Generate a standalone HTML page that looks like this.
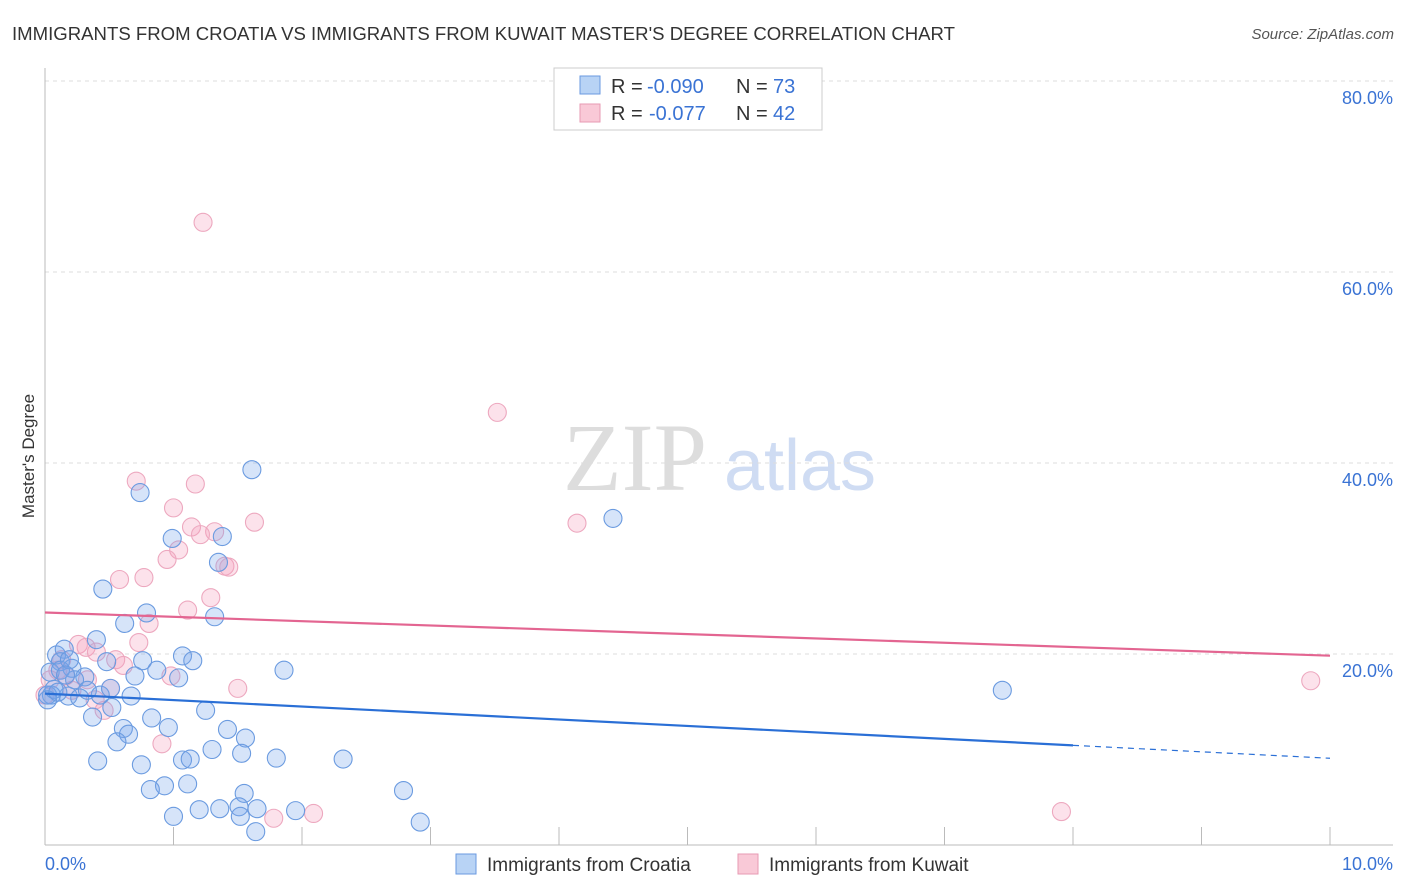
<!DOCTYPE html>
<html><head><meta charset="utf-8"><style>
body{margin:0;background:#fff;font-family:"Liberation Sans",sans-serif}
</style></head><body>
<svg id="c" width="1406" height="892" style="position:absolute;left:0;top:0">
<text x="12" y="40" font-size="18" fill="#333" textLength="943" lengthAdjust="spacingAndGlyphs">IMMIGRANTS FROM CROATIA VS IMMIGRANTS FROM KUWAIT MASTER'S DEGREE CORRELATION CHART</text>
<text x="1394" y="39" font-size="15" fill="#555" font-style="italic" text-anchor="end">Source: ZipAtlas.com</text>
<text x="34" y="456" font-size="17" fill="#333" text-anchor="middle" transform="rotate(-90 34 456)">Master's Degree</text>
<g><text x="635" y="490" font-size="96" fill="#ddd" font-family="Liberation Serif,serif" text-anchor="middle">ZIP</text><text x="800" y="490" font-size="72" fill="#cfdcf3" text-anchor="middle">atlas</text></g>
<g id="grid"></g><g id="axes"></g><g id="pts"></g><g id="trend"></g>
<g>
<rect x="554" y="68" width="268" height="62" fill="#fff" stroke="#ccc"/>
<rect x="580" y="76" width="20" height="18" fill="#b8d3f5" stroke="#6a9ae0"/>
<text x="611" y="93" font-size="20" fill="#333">R =</text>
<text x="647" y="93" font-size="20" fill="#3a73d4">-0.090</text>
<text x="736" y="93" font-size="20" fill="#333">N =</text>
<text x="773" y="93" font-size="20" fill="#3a73d4">73</text>
<rect x="580" y="104" width="20" height="18" fill="#f9c9d7" stroke="#e79ab3"/>
<text x="611" y="120" font-size="20" fill="#333">R =</text>
<text x="649" y="120" font-size="20" fill="#3a73d4">-0.077</text>
<text x="736" y="120" font-size="20" fill="#333">N =</text>
<text x="773" y="120" font-size="20" fill="#3a73d4">42</text>
</g>
<g>
<rect x="456" y="854" width="20" height="20" fill="#b8d3f5" stroke="#6a9ae0"/>
<text x="487" y="871" font-size="19" fill="#333">Immigrants from Croatia</text>
<rect x="738" y="854" width="20" height="20" fill="#f9c9d7" stroke="#e79ab3"/>
<text x="769" y="871" font-size="19" fill="#333">Immigrants from Kuwait</text>
</g>
</svg>
<script>
const yTicks=[20,40,60,80];
const yTickLabels=["20.0%","40.0%","60.0%","80.0%"];
const xTicks=[0,1,2,3,4,5,6,7,8,9,10];
const croatiaX=[1.61,0.74,4.42,0.99,1.38,0.45,1.35,0.79,1.32,0.62,0.4,1.07,1.15,0.76,0.48,0.87,0.7,1.04,1.86,0.09,0.15,0.12,0.21,0.04,0.31,0.05,0.18,0.27,0.43,0.67,0.52,1.25,0.37,0.83,0.96,0.61,0.65,1.42,0.56,1.56,1.3,1.53,0.41,1.8,2.32,1.07,1.13,0.75,1.11,0.93,0.82,2.79,1.55,1.0,1.2,1.36,1.51,1.65,1.52,1.95,1.64,2.92,7.45,0.02,0.07,0.12,0.23,0.33,0.51,0.19,0.02,0.1,0.16];
const croatiaY=[39.3,36.9,34.2,32.1,32.3,26.8,29.6,24.3,23.9,23.2,21.5,19.8,19.3,19.3,19.2,18.3,17.7,17.5,18.3,19.9,20.5,19.2,18.5,18.1,17.6,15.7,15.6,15.4,15.7,15.6,14.4,14.1,13.4,13.3,12.3,12.2,11.6,12.1,10.8,11.2,10.0,9.6,8.8,9.1,9.0,8.9,9.0,8.4,6.4,6.2,5.8,5.7,5.4,3.0,3.7,3.8,4.0,3.8,3.0,3.6,1.4,2.4,16.2,15.7,16.3,18.3,17.3,16.2,16.4,19.4,15.2,16.0,17.8];
const kuwaitX=[1.23,3.52,0.71,1.17,1.0,1.63,1.14,1.32,4.14,1.21,1.04,0.95,1.4,1.43,0.58,0.77,1.29,1.11,0.81,0.73,0.26,0.32,0.4,0.55,0.61,0.98,1.5,0.51,0.46,0.91,1.78,2.09,7.91,9.85,0.04,0.1,0.16,0.21,0.33,0.0,0.13,0.39];
const kuwaitY=[65.2,45.3,38.1,37.8,35.3,33.8,33.3,32.8,33.7,32.5,30.9,29.9,29.2,29.1,27.8,28.0,25.9,24.6,23.2,21.2,21.0,20.7,20.2,19.4,18.8,17.7,16.4,16.4,14.1,10.6,2.8,3.3,3.5,17.2,17.3,18.3,17.7,16.2,17.3,15.7,19.4,15.2];
const ns="http://www.w3.org/2000/svg";
const X0=45,X1=1330,Y0=845,YS=9.55;
const sx=v=>X0+v*(X1-X0)/10, sy=v=>Y0-v*YS;
function mk(t,a,p){const e=document.createElementNS(ns,t);for(const k in a)e.setAttribute(k,a[k]);p.appendChild(e);return e;}
const grid=document.getElementById('grid'),axes=document.getElementById('axes'),pts=document.getElementById('pts'),trend=document.getElementById('trend');
yTicks.forEach((v,i)=>{
 const l=mk('line',{x1:X0,x2:1393,y1:sy(v),y2:sy(v),stroke:'#ddd','stroke-dasharray':'4 4'},grid);
 
 
 const t=mk('text',{x:1393,y:sy(v)+23,'font-size':18,fill:'#3a73d4','text-anchor':'end'},grid);
 t.textContent=yTickLabels[i];
 
 
});
const ax=mk('line',{x1:X0,x2:1393,y1:Y0,y2:Y0,stroke:'#bbb'},axes);


const ay=mk('line',{x1:X0,x2:X0,y1:68,y2:Y0,stroke:'#bbb'},axes);


xTicks.forEach(v=>{const t=mk('line',{x1:sx(v),x2:sx(v),y1:827,y2:Y0,stroke:'#bbb'},axes);
 
 });
const xl0=mk('text',{x:45,y:870,'font-size':18,fill:'#3a73d4'},axes);xl0.textContent='0.0%';


const xl1=mk('text',{x:1393,y:870,'font-size':18,fill:'#3a73d4','text-anchor':'end'},axes);xl1.textContent='10.0%';


function draw(xs,ys,fill,stroke,name){xs.forEach((x,i)=>{const c=mk('circle',{cx:sx(x),cy:sy(ys[i]),r:9,fill:fill,stroke:stroke,'stroke-width':1.1},pts);
 
 });}
draw(kuwaitX,kuwaitY,'rgba(244,160,190,0.3)','#eda8bf','kuwait-point');
draw(croatiaX,croatiaY,'rgba(120,165,235,0.3)','#6b9be0','croatia-point');
function fit(xs,ys){const n=xs.length;let mx=0,my=0;xs.forEach((x,i)=>{mx+=x;my+=ys[i]});mx/=n;my/=n;let a=0,b=0;xs.forEach((x,i)=>{a+=(x-mx)*(ys[i]-my);b+=(x-mx)*(x-mx)});const s=a/b;return [s,my-s*mx];}
const [bs,bi]=fit(croatiaX,croatiaY),[ps,pi]=fit(kuwaitX,kuwaitY);
const bl=mk('line',{x1:sx(0),y1:sy(bi),x2:sx(8),y2:sy(bi+bs*8),stroke:'#2a6fd6','stroke-width':2.2},trend);


const bd=mk('line',{x1:sx(8),y1:sy(bi+bs*8),x2:sx(10),y2:sy(bi+bs*10),stroke:'#2a6fd6','stroke-width':1.2,'stroke-dasharray':'6 5'},trend);


const pl=mk('line',{x1:sx(0),y1:sy(pi),x2:sx(10),y2:sy(pi+ps*10),stroke:'#e36591','stroke-width':2.2},trend);


</script>
</body></html>
